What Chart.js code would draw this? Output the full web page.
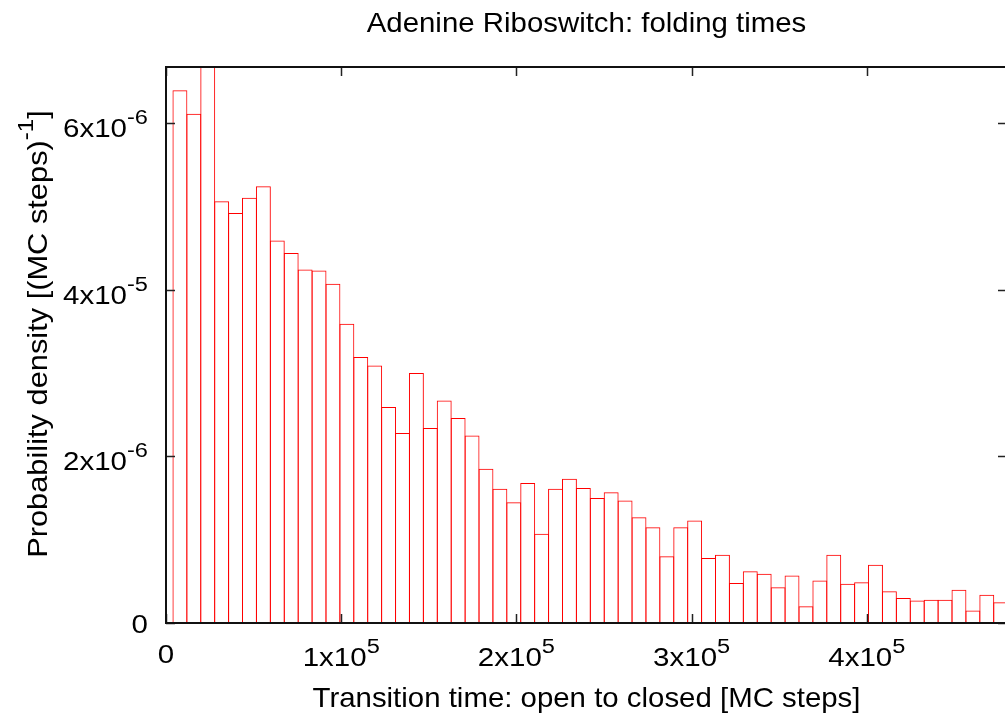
<!DOCTYPE html>
<html>
<head>
<meta charset="utf-8">
<script src="https://cdn.jsdelivr.net/npm/chart.js@4/dist/chart.umd.min.js"></script>
<style>
  html, body { margin: 0; padding: 0; overflow: hidden; background: #fff; }
  #wrap { width: 1012px; height: 716px; }
</style>
</head>
<body>
<div id="wrap"><canvas id="histChart" width="1012" height="716"></canvas></div>
<script>
// bin centres (MC steps), one bin is ~7940 steps wide
var binCenters = [
  7940, 15880, 23820, 31760, 39700, 47640, 55580, 63520, 71460, 79400,
  87340, 95280, 103220, 111160, 119100, 127040, 134980, 142920, 150860, 158800,
  166740, 174680, 182620, 190560, 198500, 206440, 214380, 222320, 230260, 238200,
  246140, 254080, 262020, 269960, 277900, 285840, 293780, 301720, 309660, 317600,
  325540, 333480, 341420, 349360, 357300, 365240, 373180, 381120, 389060, 397000,
  404940, 412880, 420820, 428760, 436700, 444640, 452580, 460520, 468460, 476400
];

// probability density per bin, in units of 1e-6 (MC steps)^-1
var density = [
  6.39, 6.11, 7.10, 5.06, 4.92, 5.10, 5.24, 4.59, 4.44, 4.24,
  4.23, 4.07, 3.59, 3.19, 3.09, 2.59, 2.28, 3.00, 2.34, 2.67,
  2.46, 2.25, 1.85, 1.61, 1.45, 1.68, 1.07, 1.61, 1.73, 1.62,
  1.50, 1.57, 1.47, 1.27, 1.15, 0.80, 1.15, 1.23, 0.78, 0.82,
  0.48, 0.62, 0.59, 0.43, 0.57, 0.20, 0.51, 0.82, 0.47, 0.49,
  0.70, 0.38, 0.30, 0.27, 0.28, 0.28, 0.40, 0.15, 0.34, 0.25
];

var chartTitle = 'Adenine Riboswitch: folding times';
var xTitle = 'Transition time: open to closed [MC steps]';
var yTitle = ['Probability density [(MC steps)', '-1', ']'];

var xTickValues = [0, 100000, 200000, 300000, 400000];
var xTickBases = ['0', '1x10', '2x10', '3x10', '4x10'];
var xTickExps = ['', '5', '5', '5', '5'];

var yTickValues = [0, 2e-6, 4e-6, 6e-6];
var yTickBases = ['0', '2x10', '4x10', '6x10'];
var yTickExps = ['', '-6', '-5', '-6'];

var FONT = '"Liberation Sans", Arial, Helvetica, sans-serif';

// width of base text plus optional superscript
var measureSup = function(ctx, base, exp, size, stretch) {
  ctx.font = size + 'px ' + FONT;
  var w = ctx.measureText(base).width;
  if (exp) {
    ctx.font = Math.round(size * 0.8) + 'px ' + FONT;
    w += ctx.measureText(exp).width;
  }
  return w * stretch;
};

var drawSup = function(ctx, base, exp, left, baseline, size, stretch) {
  ctx.save();
  ctx.translate(left, baseline);
  ctx.scale(stretch, 1);
  ctx.textAlign = 'left';
  ctx.textBaseline = 'alphabetic';
  ctx.font = size + 'px ' + FONT;
  ctx.fillText(base, 0, 0);
  var w = ctx.measureText(base).width;
  if (exp) {
    ctx.font = Math.round(size * 0.8) + 'px ' + FONT;
    ctx.fillText(exp, w, -Math.round(size * 0.5));
  }
  ctx.restore();
};

var gnuplotFrame = {
  id: 'gnuplotFrame',
  afterDraw: function(chart) {
    var ctx = chart.ctx;
    var area = chart.chartArea;
    var xs = chart.scales.x;
    var ys = chart.scales.y;
    var tickLen = 9;

    ctx.save();
    ctx.fillStyle = '#000';

    // ticks on all four sides, pointing inwards
    ctx.strokeStyle = '#222';
    ctx.lineWidth = 1.5;
    ctx.beginPath();
    yTickValues.forEach(function(v) {
      var py = Math.round(ys.getPixelForValue(v)) + 0.5;
      ctx.moveTo(area.left, py); ctx.lineTo(area.left + tickLen, py);
      ctx.moveTo(area.right, py); ctx.lineTo(area.right - tickLen, py);
    });
    xTickValues.forEach(function(v) {
      var px = Math.round(xs.getPixelForValue(v)) + 0.5;
      ctx.moveTo(px, area.bottom); ctx.lineTo(px, area.bottom - tickLen);
      ctx.moveTo(px, area.top); ctx.lineTo(px, area.top + tickLen);
    });
    ctx.stroke();

    // frame
    ctx.strokeStyle = '#111';
    ctx.lineWidth = 2;
    ctx.strokeRect(area.left, area.top, area.right - area.left, area.bottom - area.top);

    // y tick labels, right aligned
    var tickSize = 25, tickStretch = 1.18;
    yTickValues.forEach(function(v, i) {
      var py = ys.getPixelForValue(v);
      var w = measureSup(ctx, yTickBases[i], yTickExps[i], tickSize, tickStretch);
      var baseline = yTickExps[i] ? py + 14 : py + 10;
      drawSup(ctx, yTickBases[i], yTickExps[i], 148 - w, baseline, tickSize, tickStretch);
    });

    // x tick labels, centred
    xTickValues.forEach(function(v, i) {
      var px = xs.getPixelForValue(v);
      var w = measureSup(ctx, xTickBases[i], xTickExps[i], tickSize, tickStretch);
      var baseline = xTickExps[i] ? 666 : 663;
      drawSup(ctx, xTickBases[i], xTickExps[i], px - w / 2, baseline, tickSize, tickStretch);
    });

    // titles
    var titleSize = 28, titleStretch = 1.05;
    var cx = (area.left + area.right) / 2;
    var tw = measureSup(ctx, chartTitle, '', titleSize, titleStretch);
    drawSup(ctx, chartTitle, '', cx - tw / 2, 32, titleSize, titleStretch);

    tw = measureSup(ctx, xTitle, '', titleSize, titleStretch);
    drawSup(ctx, xTitle, '', cx - tw / 2, 707, titleSize, titleStretch);

    // rotated y title with superscript
    var yStretch = 1.1;
    ctx.save();
    ctx.translate(47, 334);
    ctx.rotate(-Math.PI / 2);
    ctx.scale(yStretch, 1);
    ctx.font = titleSize + 'px ' + FONT;
    var w1 = ctx.measureText(yTitle[0]).width;
    var w3 = ctx.measureText(yTitle[2]).width;
    ctx.font = Math.round(titleSize * 0.8) + 'px ' + FONT;
    var w2 = ctx.measureText(yTitle[1]).width;
    var start = -(w1 + w2 + w3) / 2;
    ctx.textAlign = 'left';
    ctx.font = titleSize + 'px ' + FONT;
    ctx.fillText(yTitle[0], start, 0);
    ctx.fillText(yTitle[2], start + w1 + w2, 0);
    ctx.font = Math.round(titleSize * 0.8) + 'px ' + FONT;
    ctx.fillText(yTitle[1], start + w1, -Math.round(titleSize * 0.5));
    ctx.restore();

    ctx.restore();
  }
};

var points = binCenters.map(function(x, i) {
  return { x: x, y: density[i] * 1e-6 };
});

new Chart(document.getElementById('histChart').getContext('2d'), {
  type: 'bar',
  data: {
    datasets: [{
      label: 'folding times',
      data: points,
      backgroundColor: 'rgba(255, 255, 255, 0)',
      borderColor: '#ff0000',
      borderWidth: 1,
      borderSkipped: 'start',
      barPercentage: 1.072,
      categoryPercentage: 1.0
    }]
  },
  options: {
    responsive: false,
    animation: false,
    devicePixelRatio: 1,
    layout: { padding: { left: 166, top: 67, right: 5, bottom: 93 } },
    plugins: {
      legend: { display: false },
      tooltip: { enabled: false },
      title: { display: false }
    },
    scales: {
      x: { type: 'linear', display: false, min: 0, max: 480000, offset: false },
      y: { type: 'linear', display: false, min: 0, max: 6.67e-6 }
    }
  },
  plugins: [gnuplotFrame]
});
</script>
</body>
</html>
